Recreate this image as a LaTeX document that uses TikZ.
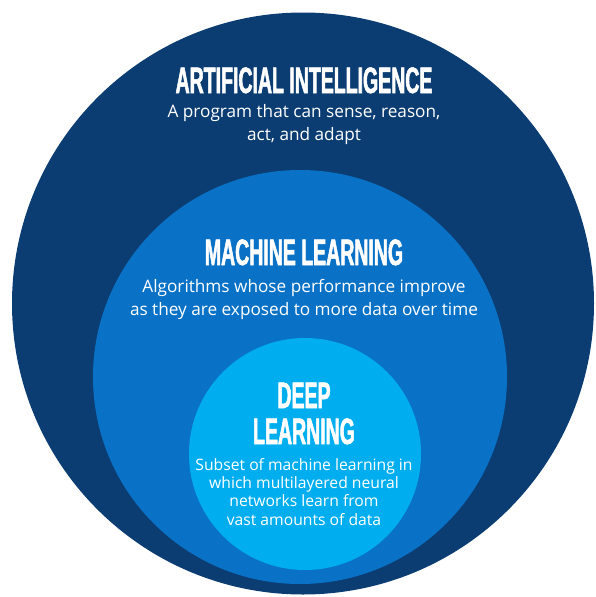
\documentclass[tikz,border=0pt]{standalone}
\usepackage{fontspec}
\setmainfont{Open Sans}
\newfontfamily\titlefont{Liberation Sans}[FakeStretch=0.53,FakeBold=1.5]
\definecolor{aiblue}{HTML}{0B3D73}
\definecolor{mlblue}{HTML}{0A72C6}
\definecolor{dlblue}{HTML}{00AEEF}
\newcommand{\figwidth}{595}
\newcommand{\figheight}{597}
\newcommand{\midx}{304}
\newcommand{\airadius}{291}
\newcommand{\mlradius}{207}
\newcommand{\dlradius}{116}

\begin{document}
\begin{tikzpicture}[x=1pt,y=-1pt]
\tikzstyle{heading}=[text=white,inner sep=0pt,anchor=base,font=\titlefont\bfseries\fontsize{36.8}{36}\selectfont]
\tikzstyle{blurb}=[text=white,inner sep=0pt,anchor=base,align=center,font=\fontsize{17.2}{22.5}\selectfont]
\tikzstyle{smallblurb}=[blurb,font=\fontsize{15.7}{18.3}\selectfont]

\useasboundingbox (0,0) rectangle (\figwidth,\figheight);

% the three sets, largest first
\fill [aiblue] (303,303.5) circle [radius=\airadius];
\fill [mlblue] (300,377) circle [radius=\mlradius];
\fill [dlblue] (305,454) circle [radius=\dlradius];

% anchor=base of a multi-line node is the last line
\node (AI) [heading] at (\midx,93) {ARTIFICIAL INTELLIGENCE};
\node (AItext) [blurb] at (\midx,140) {A program that can sense, reason,\\act, and adapt};

\node (ML) [heading] at (\midx,265) {MACHINE LEARNING};
\node (MLtext) [blurb] at (\midx,315) {Algorithms whose performance improve\\as they are exposed to more data over time};

\node (DL) [heading,align=center] at (\midx,444) {DEEP\\LEARNING};
\node (DLtext) [smallblurb] at (\midx,525) {Subset of machine learning in\\which multilayered neural\\networks learn from\\vast amounts of data};

\end{tikzpicture}
\end{document}
